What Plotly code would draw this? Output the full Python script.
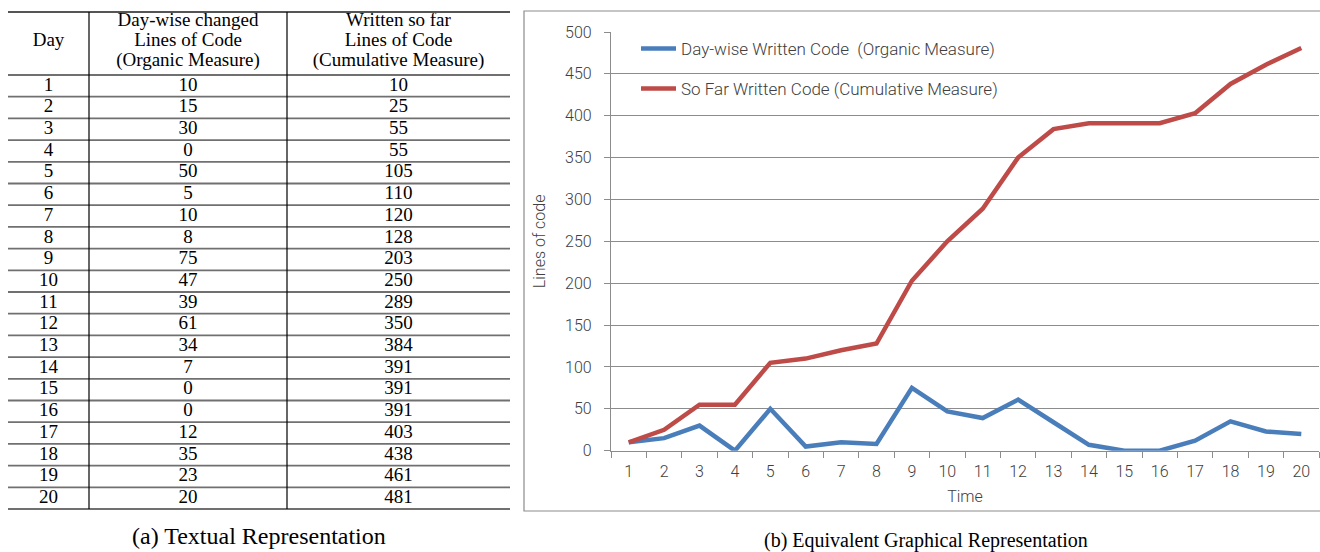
import plotly.graph_objects as go

# ---------------- data ----------------
days = list(range(1, 21))
organic = [10, 15, 30, 0, 50, 5, 10, 8, 75, 47, 39, 61, 34, 7, 0, 0, 12, 35, 23, 20]
cumulative = [10, 25, 55, 55, 105, 110, 120, 128, 203, 250, 289, 350, 384, 391, 391, 391, 403, 438, 461, 481]
day_labels = [str(d) for d in days]
header_col1 = ["Day"]
header_col2 = ["Day-wise changed", "Lines of Code", "(Organic Measure)"]
header_col3 = ["Written so far", "Lines of Code", "(Cumulative Measure)"]
series_names = ["Day-wise Written Code  (Organic Measure)", "So Far Written Code (Cumulative Measure)"]
caption_a = "(a) Textual Representation"
caption_b = "(b) Equivalent Graphical Representation"
y_title = "Lines of code"
x_title = "Time"

W, H = 1320, 552
SERIF = "Liberation Serif, Times New Roman, serif"
SANS = "Roboto, Liberation Sans, sans-serif"
GRAY = "#8c8c8c"
TXT = "#404040"
BLUE = "#4A7EBB"
RED = "#BE4B48"

def py(p):  # pixel y -> paper
    return 1 - p / H

def px(p):
    return p / W

fig = go.Figure()

# ---------------- line chart ----------------
fig.add_trace(go.Scatter(x=day_labels, y=organic, mode="lines", name=series_names[0],
                         line=dict(color=BLUE, width=4.5), legend="legend"))
fig.add_trace(go.Scatter(x=day_labels, y=cumulative, mode="lines", name=series_names[1],
                         line=dict(color=RED, width=4.5), legend="legend2"))

# ---------------- table (text through x2/y2 axes) ----------------
ROW_H = 21.7
ROW_TOP = 75.0
def rowunit(p):
    return 0.5 + (p - ROW_TOP) / ROW_H

col_x = [48.5, 188, 398.5]
tfont = dict(family=SERIF, size=19, color="black")
fig.add_trace(go.Scatter(x=[col_x[0]] * len(days), y=days, text=[str(d) for d in days],
                         mode="text", textfont=tfont, xaxis="x2", yaxis="y2", showlegend=False, hoverinfo="skip"))
fig.add_trace(go.Scatter(x=[col_x[1]] * len(days), y=days, text=[str(v) for v in organic],
                         mode="text", textfont=tfont, xaxis="x2", yaxis="y2", showlegend=False, hoverinfo="skip"))
fig.add_trace(go.Scatter(x=[col_x[2]] * len(days), y=days, text=[str(v) for v in cumulative],
                         mode="text", textfont=tfont, xaxis="x2", yaxis="y2", showlegend=False, hoverinfo="skip"))
# header lines
hdr_y = [rowunit(21.7), rowunit(41.7), rowunit(61.7)]
fig.add_trace(go.Scatter(x=[col_x[0]], y=[hdr_y[1]], text=header_col1, mode="text", textfont=tfont,
                         xaxis="x2", yaxis="y2", showlegend=False, hoverinfo="skip"))
fig.add_trace(go.Scatter(x=[col_x[1]] * 3, y=hdr_y, text=header_col2, mode="text", textfont=tfont,
                         xaxis="x2", yaxis="y2", showlegend=False, hoverinfo="skip"))
fig.add_trace(go.Scatter(x=[col_x[2]] * 3, y=hdr_y, text=header_col3, mode="text", textfont=tfont,
                         xaxis="x2", yaxis="y2", showlegend=False, hoverinfo="skip"))

shapes = []
TL, TR = 8, 510
top_u = rowunit(12)
shapes.append(dict(type="line", xref="x2", yref="y2", x0=TL, x1=TR, y0=top_u, y1=top_u,
                   line=dict(color="#555555", width=2)))
for r in range(0, len(days) + 1):
    yy = r + 0.5
    shapes.append(dict(type="line", xref="x2", yref="y2", x0=TL, x1=TR, y0=yy, y1=yy,
                       line=dict(color="#707070", width=1.8)))
for xv in (89, 287):
    shapes.append(dict(type="line", xref="x2", yref="y2", x0=xv, x1=xv, y0=top_u, y1=len(days) + 0.5,
                       line=dict(color="black", width=1.2)))
# chart outer border
shapes.append(dict(type="rect", xref="paper", yref="paper", x0=px(524), x1=px(1330), y0=py(511), y1=py(11),
                   line=dict(color=GRAY, width=1.2), layer="below"))

annotations = [
    dict(text=caption_a, xref="paper", yref="paper", x=px(258.5), y=py(536), showarrow=False,
         font=dict(family=SERIF, size=24, color="black"), xanchor="center", yanchor="middle"),
    dict(text=caption_b, xref="paper", yref="paper", x=px(926), y=py(540), showarrow=False,
         font=dict(family=SERIF, size=20, color="black"), xanchor="center", yanchor="middle"),
]

fig.update_layout(
    width=W, height=H,
    margin=dict(l=0, r=0, t=0, b=0, autoexpand=False),
    paper_bgcolor="white", plot_bgcolor="white",
    shapes=shapes, annotations=annotations,
    xaxis=dict(domain=[px(611), px(1319)], type="category", tickson="boundaries", automargin=False,
               range=[-0.5, len(days) - 0.5],
               ticks="outside", ticklen=6, tickcolor=GRAY, showline=True, linecolor=GRAY, linewidth=1.2,
               showgrid=False, zeroline=False, ticklabelstandoff=6,
               tickfont=dict(family=SANS, size=16, color=TXT, weight=300),
               title=dict(text=x_title, font=dict(family=SANS, size=16, color=TXT, weight=300), standoff=10)),
    yaxis=dict(domain=[py(450.7), py(32)], range=[0, 500], dtick=50, tick0=0, automargin=False,
               ticks="outside", ticklen=6, tickcolor=GRAY, showline=True, linecolor=GRAY, linewidth=1.2,
               showgrid=True, gridcolor=GRAY, gridwidth=1, zeroline=False, ticklabelstandoff=9,
               tickfont=dict(family=SANS, size=16, color=TXT, weight=300),
               title=dict(text=y_title, font=dict(family=SANS, size=16, color=TXT, weight=300), standoff=15)),
    xaxis2=dict(domain=[0, px(520)], range=[0, 520], visible=False, anchor="y2", automargin=False),
    yaxis2=dict(domain=[0, 1], range=[rowunit(552), rowunit(0)], visible=False, anchor="x2", automargin=False),
    legend=dict(x=px(636), y=py(49), xanchor="left", yanchor="middle", bgcolor="rgba(0,0,0,0)", itemwidth=35,
                font=dict(family=SANS, size=17, color=TXT, weight=300)),
    legend2=dict(x=px(636), y=py(89), xanchor="left", yanchor="middle", bgcolor="rgba(0,0,0,0)", itemwidth=35,
                 font=dict(family=SANS, size=17, color=TXT, weight=300)),
    showlegend=True,
)

fig.write_html("out.html")
